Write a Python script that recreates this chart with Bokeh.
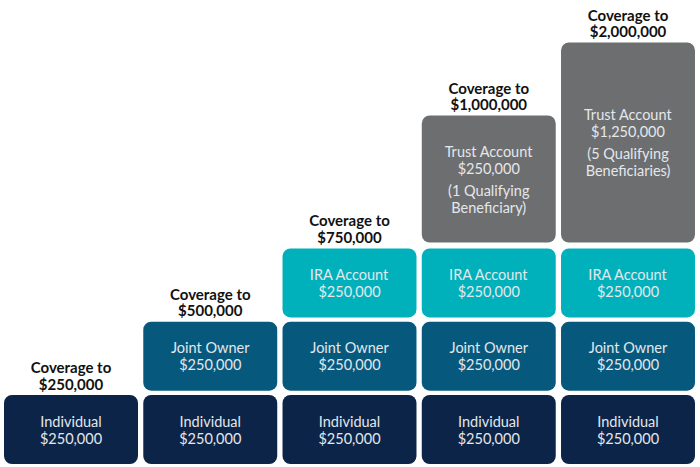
from bokeh.plotting import figure
from bokeh.models import Range1d, ColumnDataSource
from bokeh.core.properties import value
from bokeh.embed import file_html
from bokeh.resources import INLINE

# ---- data ----
coverage_labels = ["$250,000", "$500,000", "$750,000", "$1,000,000", "$2,000,000"]
tiers = ["Individual", "Joint Owner", "IRA Account"]
tier_amounts = ["$250,000", "$250,000", "$250,000"]
tier_colors = ["#0b2447", "#06597c", "#00b1bb"]
trust_amounts = [None, None, None, "$250,000", "$1,250,000"]
trust_notes = [None, None, None, ["(1 Qualifying", "Beneficiary)"], ["(5 Qualifying", "Beneficiaries)"]]
trust_color = "#6d6e6f"

# ---- layout constants (page-pixel-like units on y) ----
row_center0 = 429.0
row_pitch = 73.3
row_h = 69.0
box_w = 0.962
trust_bottom = 242.0
trust_heights = {3: 127.0, 4: 200.0}

p = figure(width=700, height=467, output_backend="svg", toolbar_location=None,
           x_range=Range1d(-0.5063, 4.5206), y_range=Range1d(467, 0),
           min_border=0)
p.axis.visible = False
p.grid.visible = False
p.outline_line_color = None
p.background_fill_color = "white"
p.border_fill_color = "white"

boxes = dict(left=[], right=[], top=[], bottom=[], color=[])
txt = dict(x=[], y=[], text=[])
ttl = dict(x=[], y=[], text=[])

for i, cov in enumerate(coverage_labels):
    n_tiers = min(i, 2) + 1
    top_edge = None
    for r in range(n_tiers):
        cy = row_center0 - r * row_pitch
        boxes["left"].append(i - box_w / 2)
        boxes["right"].append(i + box_w / 2)
        boxes["bottom"].append(cy + row_h / 2)
        boxes["top"].append(cy - row_h / 2)
        boxes["color"].append(tier_colors[r])
        txt["x"] += [i, i]
        txt["y"] += [cy - 8.5, cy + 8.5]
        txt["text"] += [tiers[r], tier_amounts[r]]
        top_edge = cy - row_h / 2
    if trust_amounts[i] is not None:
        h = trust_heights[i]
        top = trust_bottom - h
        boxes["left"].append(i - box_w / 2)
        boxes["right"].append(i + box_w / 2)
        boxes["bottom"].append(trust_bottom)
        boxes["top"].append(top)
        boxes["color"].append(trust_color)
        c = trust_bottom - h / 2
        lines = ["Trust Account", trust_amounts[i]] + trust_notes[i]
        ys = [c - 28, c - 11, c + 11, c + 28]
        txt["x"] += [i] * 4
        txt["y"] += ys
        txt["text"] += lines
        top_edge = top
    ttl["x"] += [i, i]
    ttl["y"] += [top_edge - 28, top_edge - 11.5]
    ttl["text"] += ["Coverage to", cov]

p.quad(left="left", right="right", top="top", bottom="bottom", fill_color="color",
       line_color=None, border_radius=8, source=ColumnDataSource(boxes))
p.text(x="x", y="y", text="text", source=ColumnDataSource(txt),
       text_font=value("Lato"), text_font_size="14.5px", text_color="#e4e7ec",
       text_align="center", text_baseline="middle")
p.text(x="x", y="y", text="text", source=ColumnDataSource(ttl),
       text_font=value("Lato"), text_font_size="15px", text_font_style="bold",
       text_color="#111111", text_align="center", text_baseline="middle")

open("out.html", "w").write(file_html(p, INLINE))
